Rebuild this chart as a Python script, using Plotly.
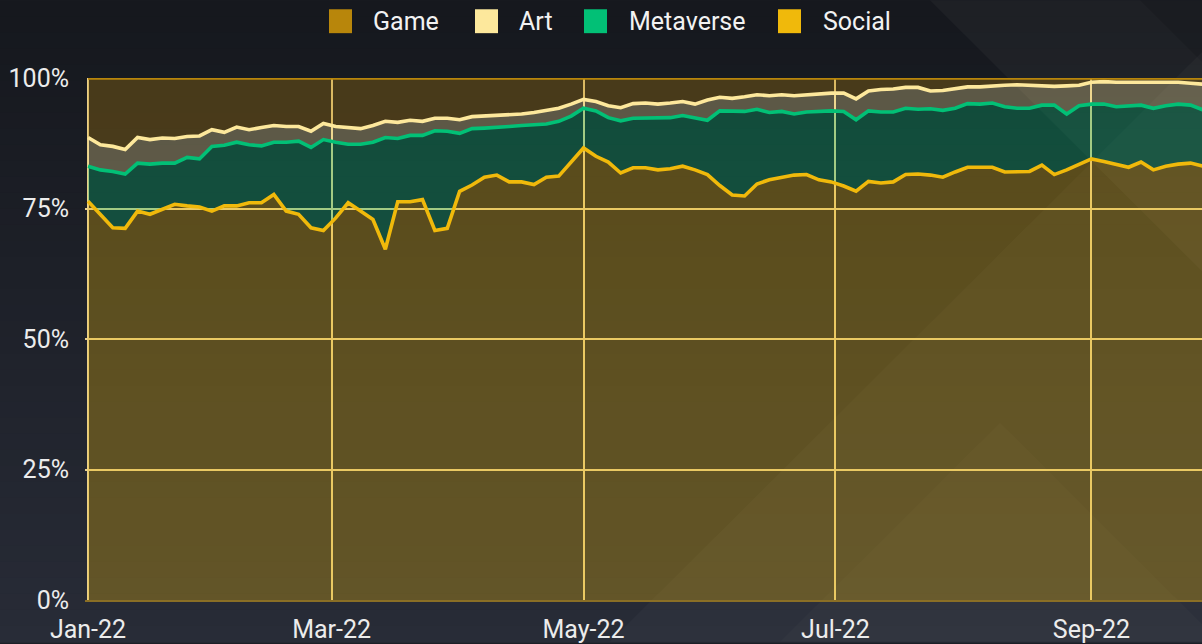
import numpy as np
import pandas as pd
import plotly.graph_objects as go

# ---------------- data (every 3 days) ----------------
dates = pd.date_range("2022-01-01", periods=91, freq="3D")

# upper edge of each stacked band, in % of total
social_top = [76.4, 73.9, 71.3, 71.2, 74.5, 73.9, 74.8, 75.8, 75.5, 75.3,
              74.5, 75.5, 75.5, 76.1, 76.1, 77.7, 74.5, 73.9, 71.3, 70.8,
              73.2, 76.1, 74.5, 72.9, 67.2, 76.3, 76.3, 76.7, 70.8, 71.2,
              78.3, 79.5, 81.0, 81.4, 80.1, 80.1, 79.6, 81.0, 81.2, 83.9,
              86.6, 85.0, 83.9, 81.8, 82.8, 82.8, 82.4, 82.6, 83.1, 82.4,
              81.5, 79.4, 77.6, 77.4, 79.7, 80.5, 81.0, 81.4, 81.5, 80.5,
              80.1, 79.3, 78.3, 80.2, 79.9, 80.1, 81.5, 81.6, 81.4, 81.0,
              82.0, 82.9, 82.9, 82.9, 82.0, 82.1, 82.1, 83.3, 81.5, 82.4,
              83.5, 84.5, 84.0, 83.4, 82.9, 83.9, 82.4, 83.1, 83.5, 83.7, 83.1]

metaverse_top = [83.1, 82.4, 82.1, 81.6, 83.7, 83.5, 83.7, 83.7, 84.8, 84.5,
                 86.9, 87.1, 87.7, 87.2, 87.0, 87.7, 87.7, 87.9, 86.7, 88.2,
                 87.7, 87.3, 87.3, 87.7, 88.6, 88.4, 89.0, 89.0, 89.9, 89.8,
                 89.4, 90.3, 90.4, 90.5, 90.7, 90.9, 91.0, 91.2, 91.7, 92.7,
                 94.2, 93.7, 92.4, 91.8, 92.3, 92.3, 92.3, 92.4, 92.8, 92.4,
                 91.9, 93.7, 93.6, 93.6, 94.0, 93.4, 93.6, 93.1, 93.5, 93.6,
                 93.7, 93.6, 92.0, 93.7, 93.5, 93.5, 94.2, 94.0, 94.1, 93.8,
                 94.2, 95.1, 95.0, 95.2, 94.5, 94.2, 94.2, 94.8, 94.8, 93.1,
                 94.7, 95.0, 95.0, 94.5, 94.7, 94.8, 94.2, 94.7, 95.0, 94.8, 93.9]

art_top = [88.6, 87.2, 86.9, 86.3, 88.6, 88.2, 88.5, 88.4, 88.8, 88.9,
           90.1, 89.6, 90.6, 90.1, 90.5, 90.9, 90.7, 90.7, 89.8, 91.3,
           90.7, 90.5, 90.3, 90.9, 91.7, 91.5, 91.9, 91.7, 92.3, 92.3,
           92.0, 92.6, 92.7, 92.8, 93.0, 93.1, 93.4, 93.8, 94.2, 95.0,
           95.9, 95.5, 94.7, 94.3, 95.1, 95.2, 95.0, 95.2, 95.5, 95.0,
           95.8, 96.3, 96.1, 96.4, 96.8, 96.6, 96.8, 96.6, 96.8, 96.9,
           97.1, 97.1, 96.0, 97.5, 97.8, 97.9, 98.2, 98.2, 97.5, 97.6,
           98.0, 98.3, 98.3, 98.5, 98.6, 98.7, 98.6, 98.5, 98.4, 98.5,
           98.6, 99.2, 99.3, 99.2, 99.2, 99.2, 99.2, 99.2, 99.2, 99.0, 98.8]

legend_order = ["Game", "Art", "Metaverse", "Social"]
colors = {"Game": "#b8860b", "Art": "#fde89c", "Metaverse": "#02c076", "Social": "#f0b90b"}
y_ticks = [0, 25, 50, 75, 100]
y_tick_text = ["0%", "25%", "50%", "75%", "100%"]

# shares of each category (differences between the read band edges)
social = np.array(social_top)
metaverse = np.array(metaverse_top) - np.array(social_top)
art = np.array(art_top) - np.array(metaverse_top)
game = 100 - np.array(art_top)
shares = {"Social": social, "Metaverse": metaverse, "Art": art, "Game": game}

# ---------------- layout helpers ----------------
W, H = 1202, 644
L, R, T, B = 85, 0, 78, 42
PW, PH = W - L - R, H - T - B


def fx(x):
    return (x - L) / PW


def fy(y):
    return (H - B - y) / PH


def rgba(hex_c, a):
    h = hex_c.lstrip("#")
    r, g, b = int(h[0:2], 16), int(h[2:4], 16), int(h[4:6], 16)
    return f"rgba({r},{g},{b},{a})"


FONT = "Roboto, 'Liberation Sans', Arial, sans-serif"

fig = go.Figure()
for name in ["Social", "Metaverse", "Art", "Game"]:
    c = colors[name]
    fig.add_trace(go.Scatter(
        x=dates, y=shares[name], name=name, stackgroup="one", mode="lines",
        line=dict(color=c, width=3.6), fillcolor=rgba(c, 0.3), showlegend=False,
        hovertemplate="%{x|%b %d, %Y}: %{y:.1f}%<extra>" + name + "</extra>"))

shapes = []
# background vertical gradient
n = 40
top_c = np.array([22, 24, 30])
bot_c = np.array([40, 44, 55])
for i in range(n):
    t = i / (n - 1)
    c = (top_c * (1 - t) + bot_c * t).astype(int)
    y0 = H * i / n
    y1 = H * (i + 1) / n + 1
    shapes.append(dict(type="rect", xref="paper", yref="paper", layer="below",
                       x0=fx(0), x1=fx(W), y0=fy(y1), y1=fy(y0),
                       fillcolor=f"rgb({c[0]},{c[1]},{c[2]})", line=dict(width=0)))


def poly(pts, color):
    d = "M " + " L ".join(f"{fx(x):.5f},{fy(y):.5f}" for x, y in pts) + " Z"
    return dict(type="path", xref="paper", yref="paper", layer="below", path=d,
                fillcolor=color, line=dict(width=0))


# decorative diagonal facets
shapes.append(poly([(930, 0), (1202, 0), (1202, 272)], "rgba(255,255,255,0.035)"))
shapes.append(poly([(1140, 0), (1202, 0), (1202, 62)], "rgba(0,0,0,0.10)"))
shapes.append(poly([(610, 644), (1202, 52), (1202, 644)], "rgba(255,255,255,0.028)"))
shapes.append(poly([(780, 644), (1000, 424), (1202, 626), (1202, 644)], "rgba(255,255,255,0.018)"))

# manual legend
leg_sq_x = {"Game": 329, "Art": 475, "Metaverse": 584, "Social": 778}
leg_tx_x = {"Game": 371, "Art": 517, "Metaverse": 627, "Social": 821}
annotations = []
for name in legend_order:
    x0 = leg_sq_x[name]
    shapes.append(dict(type="rect", xref="paper", yref="paper", layer="above",
                       x0=fx(x0), x1=fx(x0 + 23), y0=fy(33), y1=fy(9),
                       fillcolor=colors[name], line=dict(width=0)))
    annotations.append(dict(x=fx(leg_tx_x[name]), y=fy(21), xref="paper", yref="paper",
                            text=name, showarrow=False, xanchor="left", yanchor="middle",
                            font=dict(family=FONT, size=25, color="#f2f2f2")))

GRID = "#e9d08a"
fig.update_layout(
    width=W, height=H,
    margin=dict(l=L, r=R, t=T, b=B, pad=0),
    paper_bgcolor="#1c1f26",
    plot_bgcolor="rgba(0,0,0,0)",
    showlegend=False,
    shapes=shapes,
    annotations=annotations,
    font=dict(family=FONT, size=25, color="#ececec"),
    xaxis=dict(type="date", range=["2021-12-31 06:30", "2022-09-27 18:30"],
               dtick="M2", tick0="2022-01-01", tickformat="%b-%y",
               showgrid=True, gridcolor=GRID, gridwidth=2, ticks="",
               showline=True, linecolor="#8a6e25", linewidth=2,
               tickfont=dict(family=FONT, size=25, color="#ececec"),
               ticklabelstandoff=6, zeroline=False),
    yaxis=dict(range=[0, 100], tickmode="array", tickvals=y_ticks, ticktext=y_tick_text,
               showgrid=True, gridcolor=GRID, gridwidth=2, ticks="",
               zeroline=False, showline=False,
               tickfont=dict(family=FONT, size=25, color="#ececec"),
               ticklabelstandoff=15),
)

fig.write_html("out.html",
               config={"displayModeBar": False},
               post_script="document.body.style.margin='0';document.body.style.overflow='hidden';")
